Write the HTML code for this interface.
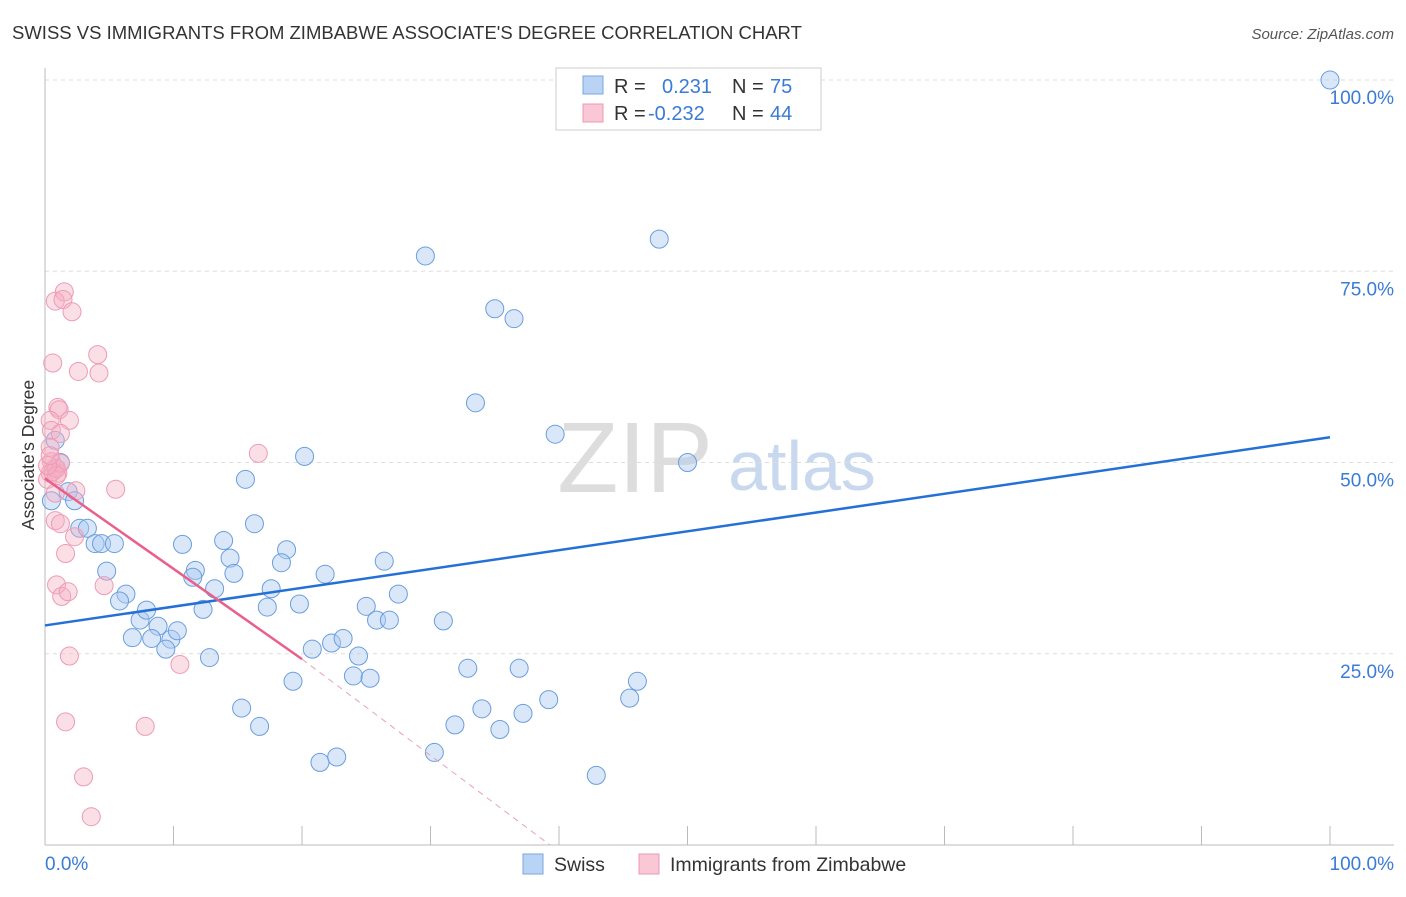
<!DOCTYPE html>
<html><head><meta charset="utf-8"><style>
body{margin:0;background:#fff;font-family:"Liberation Sans",sans-serif;}
svg text{font-family:"Liberation Sans",sans-serif;}
</style></head><body>
<svg id="c" width="1406" height="892">
<text x="12" y="39" font-size="18.5" fill="#333">SWISS VS IMMIGRANTS FROM ZIMBABWE ASSOCIATE'S DEGREE CORRELATION CHART</text>
<text x="1394" y="39" font-size="15" fill="#555" text-anchor="end" font-style="italic">Source: ZipAtlas.com</text>
<text x="635" y="492" font-size="100" fill="#ddd" font-family="Liberation Serif" text-anchor="middle">ZIP</text>
<text x="802" y="490" font-size="70" fill="#c8d8ee" text-anchor="middle">atlas</text>
<g id="grid"></g><g id="pts"></g><g id="lines"></g>
<text transform="translate(34,455) rotate(-90)" font-size="17.5" fill="#333" text-anchor="middle">Associate's Degree</text>
<text x="45" y="870" font-size="19" fill="#3a7bd5">0.0%</text>
<text x="1394" y="870" font-size="19" fill="#3a7bd5" text-anchor="end">100.0%</text>
<g>
<rect x="556" y="68" width="265" height="62" fill="#fff" stroke="#ccc"/>
<rect x="583" y="76" width="20" height="18" fill="#b9d3f5" stroke="#7aa7e0"/>
<rect x="583" y="104" width="20" height="18" fill="#f9c7d5" stroke="#eb9ab2"/>
<text x="614" y="93" font-size="20" fill="#333">R =</text><text x="662" y="93" font-size="20" fill="#3a7bd5">0.231</text>
<text x="732" y="93" font-size="20" fill="#333">N =</text><text x="770" y="93" font-size="20" fill="#3a7bd5">75</text>
<text x="614" y="120" font-size="20" fill="#333">R =</text><text x="648" y="120" font-size="20" fill="#3a7bd5">-0.232</text>
<text x="732" y="120" font-size="20" fill="#333">N =</text><text x="770" y="120" font-size="20" fill="#3a7bd5">44</text>
</g>
<g>
<rect x="523" y="854" width="20" height="20" fill="#b9d3f5" stroke="#7aa7e0"/>
<text x="554" y="871" font-size="19.5" fill="#333">Swiss</text>
<rect x="639" y="854" width="20" height="20" fill="#f9c7d5" stroke="#eb9ab2"/>
<text x="670" y="871" font-size="19.5" fill="#333">Immigrants from Zimbabwe</text>
</g>
</svg>
<script>
const yTicks=[25,50,75,100];
const yTickLabels=["25.0%","50.0%","75.0%","100.0%"];
const xTicks=[0,10,20,30,40,50,60,70,80,90,100];
const swissX=[100,47.8,29.6,35,36.5,33.5,39.7,50,20.2,15.6,16.3,1.2,0.8,1.8,2.3,2.7,3.3,3.9,4.4,5.4,10.7,13.9,4.8,6.3,5.8,7.4,7.9,8.8,6.8,8.3,9.8,10.3,9.4,12.8,11.7,11.5,13.2,12.3,14.4,14.7,18.8,18.4,17.6,17.3,19.8,21.8,26.4,27.5,25,25.8,26.8,31,20.8,19.3,24,22.3,23.2,24.4,25.3,15.3,16.7,21.4,22.7,32.9,36.9,34,31.9,35.4,37.2,39.2,30.3,46.1,45.5,42.9,0.5];
const swissY=[100,79.2,77,70.1,68.8,57.8,53.7,50,50.8,47.8,42,50,52.9,46.2,45,41.4,41.4,39.4,39.4,39.4,39.3,39.8,35.8,32.8,31.9,29.4,30.7,28.6,27.1,27,26.9,28,25.6,24.5,35.9,35,33.5,30.8,37.5,35.5,38.6,36.9,33.5,31.1,31.5,35.4,37.1,32.8,31.2,29.4,29.4,29.3,25.6,21.4,22.1,26.4,27,24.7,21.8,17.9,15.5,10.8,11.5,23.1,23.1,17.8,15.7,15.1,17.2,19,12.1,21.4,19.2,9.1,45];
const zimX=[1.5,0.8,1.4,2.1,0.6,4.1,2.6,4.2,1,1.1,1.9,0.4,0.5,1.2,0.4,0.5,0.8,0.4,1,0.2,0.6,0.9,1.2,2.4,5.5,16.6,0.8,0.8,1.2,2.3,1.6,4.6,0.9,1.3,1.8,10.5,1.9,1.6,7.8,3,3.6,0.9,0.2,0.4];
const zimY=[72.3,71.1,71.3,69.7,63,64.1,61.9,61.7,57.2,56.9,55.5,55.5,54.2,53.8,52,50.1,49.3,48.6,48.6,47.8,48.8,49.2,49.9,46.3,46.5,51.2,46,42.4,42,40.3,38.1,33.9,34,32.5,33.1,23.6,24.7,16.1,15.5,8.9,3.7,48.3,49.6,50.9];
const L=45,R=1330,T=80,B=845;
const sx=v=>L+v/100*(R-L), sy=v=>B-v/100*(B-T);
const NS="http://www.w3.org/2000/svg";
function mk(tag,attrs,parent){const e=document.createElementNS(NS,tag);for(const k in attrs)e.setAttribute(k,attrs[k]);document.getElementById(parent).appendChild(e);return e;}
yTicks.forEach((t,i)=>{
 const g=mk('line',{x1:L,x2:1394,y1:sy(t),y2:sy(t),stroke:'#ddd','stroke-dasharray':'4,4'},'grid');
 
 
 const tx=mk('text',{x:1394,y:sy(t)+24,'font-size':19,fill:'#3a7bd5','text-anchor':'end'},'grid');
 tx.textContent=yTickLabels[i];
 
 
});
xTicks.forEach(t=>{
 const k=mk('line',{x1:sx(t),x2:sx(t),y1:826,y2:B,stroke:'#bbb'},'grid');
 
 
});
const ya=mk('line',{x1:L,x2:L,y1:68,y2:B,stroke:'#bbb'},'grid');


const xa=mk('line',{x1:L,x2:1394,y1:B,y2:B,stroke:'#bbb'},'grid');


swissX.forEach((x,i)=>{
 const c=mk('circle',{cx:sx(x),cy:sy(swissY[i]),r:9,fill:'rgba(170,202,242,0.45)',stroke:'#6a9edd','stroke-width':1},'pts');
 
 
});
zimX.forEach((x,i)=>{
 const c=mk('circle',{cx:sx(x),cy:sy(zimY[i]),r:9,fill:'rgba(246,175,196,0.4)',stroke:'#ee9ab5','stroke-width':1},'pts');
 
 
});
const bl=mk('line',{x1:sx(0),y1:sy(28.7),x2:sx(100),y2:sy(53.3),stroke:'#2570d6','stroke-width':2.5},'lines');


const pl=mk('line',{x1:sx(0),y1:sy(47.9),x2:sx(20),y2:sy(24.3),stroke:'#e8608b','stroke-width':2.5},'lines');


const pd=mk('line',{x1:sx(20),y1:sy(24.3),x2:sx(39.3),y2:sy(0),stroke:'#eaa0b8','stroke-width':1,'stroke-dasharray':'6,5'},'lines');


</script>
</body></html>
